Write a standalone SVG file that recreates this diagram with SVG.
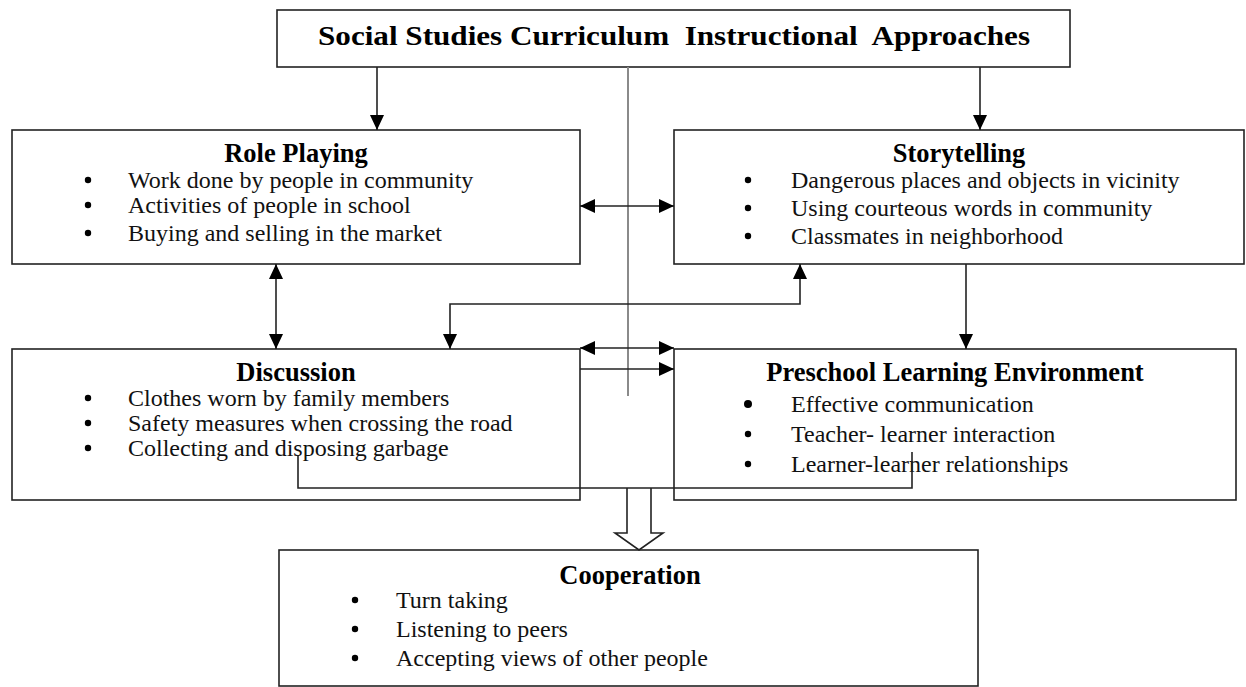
<svg xmlns="http://www.w3.org/2000/svg" width="1246" height="687" viewBox="0 0 1246 687">
  <style>
    .box { fill: #fff; stroke: #222; stroke-width: 1.6; }
    .ln { fill: none; stroke: #222; stroke-width: 1.6; }
    .head { font-family: "Liberation Serif", "Times New Roman", serif; font-weight: bold; font-size: 26.5px; fill: #000; text-anchor: middle; }
    .item { font-family: "Liberation Serif", "Times New Roman", serif; font-size: 24px; fill: #111; }
    .dot { fill: #000; }
  </style>
  <defs>
    <marker id="arr" markerUnits="userSpaceOnUse" markerWidth="16" markerHeight="14" refX="15" refY="7" orient="auto-start-reverse">
      <path d="M0,0 L15,7 L0,14 Z" fill="#000"/>
    </marker>
  </defs>

  <rect width="1246" height="687" fill="#fff"/>

  <!-- title -->
  <g id="title">
    <rect class="box" x="277" y="10" width="793" height="57"/>
    <text x="674" y="45" class="head" style="font-size:27px" xml:space="preserve" textLength="712" lengthAdjust="spacingAndGlyphs">Social Studies Curriculum  Instructional  Approaches</text>
  </g>

  <g id="role-playing">
    <rect class="box" x="12" y="130" width="568" height="134"/>
    <text class="head" x="296" y="162">Role Playing</text>
    <circle class="dot" cx="88" cy="180" r="3.2"/>
    <circle class="dot" cx="88" cy="205" r="3.2"/>
    <circle class="dot" cx="88" cy="233" r="3.2"/>
    <text class="item" x="128" y="188">Work done by people in community</text>
    <text class="item" x="128" y="213">Activities of people in school</text>
    <text class="item" x="128" y="241">Buying and selling in the market</text>
  </g>

  <g id="storytelling">
    <rect class="box" x="674" y="130" width="570" height="134"/>
    <text class="head" x="959" y="162">Storytelling</text>
    <circle class="dot" cx="748" cy="180" r="3.2"/>
    <circle class="dot" cx="748" cy="208" r="3.2"/>
    <circle class="dot" cx="748" cy="236" r="3.2"/>
    <text class="item" x="791" y="188">Dangerous places and objects in vicinity</text>
    <text class="item" x="791" y="216">Using courteous words in community</text>
    <text class="item" x="791" y="244">Classmates in neighborhood</text>
  </g>

  <g id="discussion">
    <rect class="box" x="12" y="349" width="568" height="151"/>
    <text class="head" x="296" y="381">Discussion</text>
    <circle class="dot" cx="88" cy="398" r="3.2"/>
    <circle class="dot" cx="88" cy="423" r="3.2"/>
    <circle class="dot" cx="88" cy="448" r="3.2"/>
    <text class="item" x="128" y="406">Clothes worn by family members</text>
    <text class="item" x="128" y="431">Safety measures when crossing the road</text>
    <text class="item" x="128" y="456">Collecting and disposing garbage</text>
  </g>

  <g id="preschool">
    <rect class="box" x="674" y="349" width="562" height="151"/>
    <text class="head" x="955" y="381">Preschool Learning Environment</text>
    <circle class="dot" cx="748" cy="404" r="4"/>
    <circle class="dot" cx="748" cy="434" r="3.2"/>
    <circle class="dot" cx="748" cy="464" r="3.2"/>
    <text class="item" x="791" y="412">Effective communication</text>
    <text class="item" x="791" y="442">Teacher- learner interaction</text>
    <text class="item" x="791" y="472">Learner-learner relationships</text>
  </g>

  <g id="cooperation">
    <rect class="box" x="279" y="550" width="699" height="136"/>
    <text class="head" x="630" y="584">Cooperation</text>
    <circle class="dot" cx="355" cy="600" r="3.2"/>
    <circle class="dot" cx="355" cy="629" r="3.2"/>
    <circle class="dot" cx="355" cy="658" r="3.2"/>
    <text class="item" x="396" y="608">Turn taking</text>
    <text class="item" x="396" y="637">Listening to peers</text>
    <text class="item" x="396" y="666">Accepting views of other people</text>
  </g>

  <!-- connectors, drawn over the boxes -->
  <g id="connectors">
    <line x1="628" y1="67" x2="628" y2="396" stroke="#8a8a8a" stroke-width="2"/>
    <line class="ln" x1="377" y1="67" x2="377" y2="130" marker-end="url(#arr)"/>
    <line class="ln" x1="980" y1="67" x2="980" y2="130" marker-end="url(#arr)"/>
    <line class="ln" x1="580" y1="206" x2="674" y2="206" marker-start="url(#arr)" marker-end="url(#arr)"/>
    <line class="ln" x1="276" y1="264" x2="276" y2="349" marker-start="url(#arr)" marker-end="url(#arr)"/>
    <polyline class="ln" points="800,264 800,304 450,304 450,349" marker-start="url(#arr)" marker-end="url(#arr)"/>
    <line class="ln" x1="966" y1="264" x2="966" y2="349" marker-end="url(#arr)"/>
    <line class="ln" x1="580" y1="348" x2="674" y2="348" marker-start="url(#arr)" marker-end="url(#arr)"/>
    <line class="ln" x1="580" y1="369" x2="674" y2="369" marker-end="url(#arr)"/>
    <polyline class="ln" points="298,455 298,488 912,488 912,452"/>
    <path class="ln" d="M627,488 V533 H615 L639,550 L663,533 H651 V488"/>
  </g>
</svg>
